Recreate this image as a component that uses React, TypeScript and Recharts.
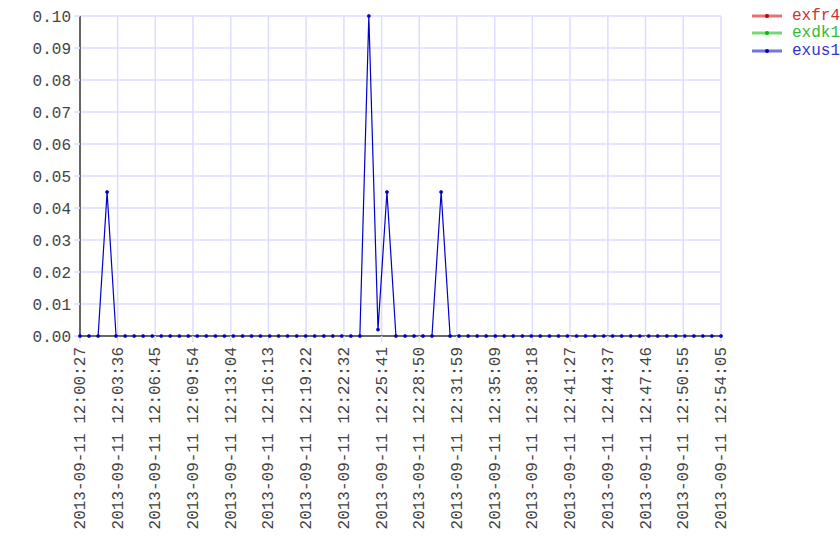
import { CartesianGrid, Legend, Line, LineChart, XAxis, YAxis } from "recharts";

// sample times (2013-09-11)
const TIMES = [
  "12:00:27", "12:01:12", "12:01:58", "12:02:43", "12:03:28", "12:04:14",
  "12:04:59", "12:05:44", "12:06:30", "12:07:15", "12:08:00", "12:08:46",
  "12:09:31", "12:10:16", "12:11:01", "12:11:47", "12:12:32", "12:13:17",
  "12:14:03", "12:14:48", "12:15:33", "12:16:19", "12:17:04", "12:17:49",
  "12:18:35", "12:19:20", "12:20:05", "12:20:51", "12:21:36", "12:22:21",
  "12:23:07", "12:23:52", "12:24:37", "12:25:23", "12:26:08", "12:26:53",
  "12:27:39", "12:28:24", "12:29:09", "12:29:54", "12:30:40", "12:31:25",
  "12:32:10", "12:32:56", "12:33:41", "12:34:26", "12:35:12", "12:35:57",
  "12:36:42", "12:37:28", "12:38:13", "12:38:58", "12:39:44", "12:40:29",
  "12:41:14", "12:42:00", "12:42:45", "12:43:30", "12:44:16", "12:45:01",
  "12:45:46", "12:46:32", "12:47:17", "12:48:02", "12:48:47", "12:49:33",
  "12:50:18", "12:51:03", "12:51:49", "12:52:34", "12:53:19", "12:54:05",
];

// exfr4 / exdk1 have no samples drawn in this window, only their legend entries
const EXFR4: number[] = [];
const EXDK1: number[] = [];
const EXUS1 = [
  0, 0, 0, 0.045, 0, 0, 0, 0, 0, 0, 0, 0, 0, 0, 0, 0, 0, 0,
  0, 0, 0, 0, 0, 0, 0, 0, 0, 0, 0, 0, 0, 0, 0.1, 0.002, 0.045, 0, 0, 0,
  0, 0, 0.045, 0, 0, 0, 0, 0, 0, 0, 0, 0, 0, 0, 0, 0, 0, 0,
  0, 0, 0, 0, 0, 0, 0, 0, 0, 0, 0, 0, 0, 0, 0, 0, 0, 0,
];

const X_TICK_LABELS = [
  "12:00:27", "12:03:36", "12:06:45", "12:09:54", "12:13:04", "12:16:13",
  "12:19:22", "12:22:32", "12:25:41", "12:28:50", "12:31:59", "12:35:09",
  "12:38:18", "12:41:27", "12:44:37", "12:47:46", "12:50:55", "12:54:05",
];
const Y_TICKS = [0, 0.01, 0.02, 0.03, 0.04, 0.05, 0.06, 0.07, 0.08, 0.09, 0.1];
const DATE = "2013-09-11";

const SERIES = [
  { key: "exfr4", values: EXFR4, color: "#cc0000", text: "#cc3333" },
  { key: "exdk1", values: EXDK1, color: "#00bb00", text: "#33bb33" },
  { key: "exus1", values: EXUS1, color: "#0000cc", text: "#3333cc" },
];

const toSec = (t: string) => {
  const [h, m, s] = t.split(":").map(Number);
  return (h - 12) * 3600 + m * 60 + s;
};

const data = TIMES.map((t, i) => {
  const row: Record<string, number | null> = { t: toSec(t) };
  SERIES.forEach((s) => (row[s.key] = s.values[i] ?? null));
  return row;
});

const xTicks = X_TICK_LABELS.map(toSec);
const labelFor = new Map(xTicks.map((v, i) => [v, X_TICK_LABELS[i]]));

const FONT = '"Liberation Mono", "DejaVu Sans Mono", monospace';
const GRID = "#ddddff";
const AXIS = "#666666";
const TEXT = "#444444";

function LegendBox() {
  return (
    <div style={{ fontFamily: FONT, fontSize: 16 }}>
      {SERIES.map((s) => (
        <div key={s.key} style={{ display: "flex", alignItems: "center", height: 17.5 }}>
          <svg width={48} height={12}>
            <line x1={8} y1={6} x2={38} y2={6} stroke={s.color} strokeOpacity={0.55} strokeWidth={3} />
            <circle cx={23} cy={6} r={2} fill={s.color} />
          </svg>
          <span style={{ color: s.text }}>{s.key}</span>
        </div>
      ))}
    </div>
  );
}

function XTick({ x, y, payload }: any) {
  const label = `${DATE} ${labelFor.get(payload.value) ?? ""}`;
  return (
    <text
      x={x}
      y={y}
      transform={`rotate(-90, ${x}, ${y})`}
      textAnchor="end"
      dy={5}
      dx={-3}
      fill={TEXT}
      fontFamily={FONT}
      fontSize={16}
    >
      {label}
    </text>
  );
}

export default function App() {
  return (
    <div style={{ position: "fixed", left: 0, top: 0, width: 840, height: 560, background: "#fff" }}>
      <LineChart width={840} height={560} data={data} margin={{ top: 16, right: 119, left: 0, bottom: 4 }}>
        <CartesianGrid stroke={GRID} strokeWidth={1.5} />
        <XAxis
          dataKey="t"
          type="number"
          domain={[xTicks[0], xTicks[xTicks.length - 1]]}
          ticks={xTicks}
          interval={0}
          height={220}
          tick={<XTick />}
          tickSize={6}
          tickLine={{ stroke: GRID, strokeWidth: 1.5 }}
          axisLine={{ stroke: AXIS, strokeWidth: 2 }}
        />
        <YAxis
          width={80}
          domain={[0, 0.1]}
          ticks={Y_TICKS}
          interval={0}
          tickFormatter={(v: number) => v.toFixed(2)}
          tick={{ fontSize: 16, fill: TEXT, fontFamily: FONT }}
          tickSize={6}
          tickMargin={3}
          tickLine={{ stroke: GRID, strokeWidth: 1.5 }}
          axisLine={{ stroke: AXIS, strokeWidth: 2 }}
        />
        <Legend
          layout="vertical"
          align="center"
          verticalAlign="middle"
          content={() => <LegendBox />}
          wrapperStyle={{ left: 744, top: 7, width: 96 }}
        />
        {SERIES.map((s) => (
          <Line
            key={s.key}
            dataKey={s.key}
            type="linear"
            stroke={s.color}
            strokeWidth={1.2}
            dot={{ r: 1.6, fill: s.color, stroke: s.color, strokeWidth: 0.6 }}
            activeDot={false}
            isAnimationActive={false}
          />
        ))}
      </LineChart>
    </div>
  );
}
